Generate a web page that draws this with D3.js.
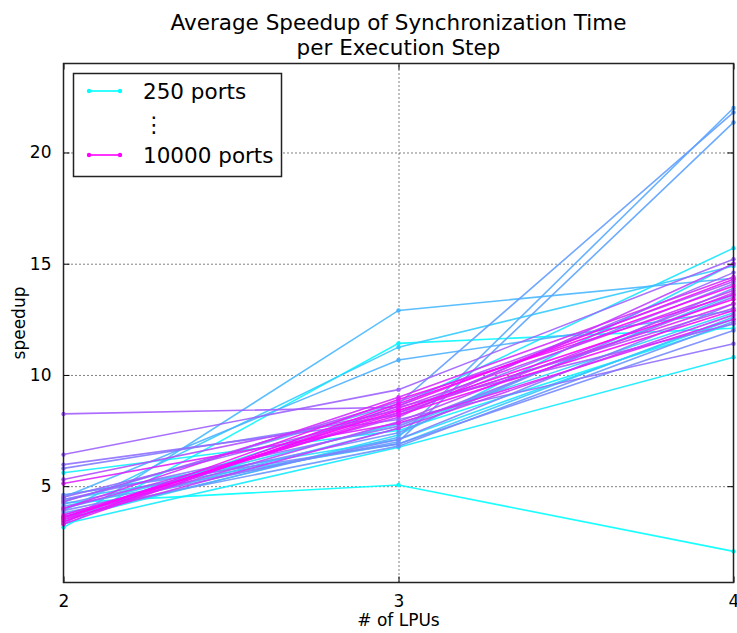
<!DOCTYPE html>
<html>
<head>
<meta charset="utf-8">
<script src="https://cdn.jsdelivr.net/npm/d3@7"></script>
<style>
  body { margin: 0; background: #fff; }
  svg { font-family: "DejaVu Sans", sans-serif; }
</style>
</head>
<body>
<div id="chart"></div>
<script>
// number of LPUs on the x axis
var lpus = [2, 3, 4];

// one series per port count, 250 .. 10000
var ports = [250, 500, 750, 1000, 1250, 1500, 1750, 2000, 2250, 2500,
             2750, 3000, 3250, 3500, 3750, 4000, 4250, 4500, 4750, 5000,
             5250, 5500, 5750, 6000, 6250, 6500, 6750, 7000, 7250, 7500,
             7750, 8000, 8250, 8500, 8750, 9000, 9250, 9500, 9750, 10000];

// speedup, one value per series
var speedup2 = [4.25, 3.15, 5.6, 3.3, 3.6, 4.6, 3.5, 4.0, 3.9, 4.4,
                3.7, 3.28, 4.5, 3.6, 4.1, 4.3, 3.8, 4.2, 4.6, 3.9,
                5.8, 4.4, 5.97, 4.5, 6.42, 8.25, 4.3, 5.3, 3.6, 4.0,
                3.5, 3.4, 4.0, 3.6, 5.12, 3.3, 3.5, 3.7, 3.4, 3.6];
var speedup3 = [5.05, 11.42, 7.5, 6.75, 8.6, 7.1, 7.3, 7.8, 11.25, 6.9,
                7.6, 12.9, 10.67, 7.2, 7.0, 8.7, 6.8, 7.4, 6.9, 7.1,
                8.2, 7.7, 8.0, 8.3, 9.34, 8.55, 8.8, 8.4, 7.9, 8.1,
                7.6, 8.5, 9.0, 8.3, 7.83, 8.6, 8.9, 8.2, 8.7, 8.4];
var speedup4 = [2.07, 12.1, 12.3, 10.8, 15.7, 12.5, 15.0, 12.8, 14.9, 12.6,
                13.6, 14.35, 12.9, 22.0, 21.35, 21.8, 12.4, 13.9, 12.0, 13.2,
                14.1, 13.5, 11.4, 14.6, 15.2, 12.3, 14.2, 13.0, 13.7, 15.0,
                12.7, 13.8, 14.4, 13.2, 12.5, 14.3, 13.6, 12.9, 14.0, 13.4];

var yTicks = [5, 10, 15, 20];

(function () {
  var W = 737, H = 633;
  var pl = 63.5, pr = 733.5, pt = 63.5, pb = 582.5;

  var svg = d3.select("#chart").append("svg")
      .attr("width", W)
      .attr("height", H);

  var x = d3.scaleLinear().domain([2, 4]).range([pl, pr]);
  var y = d3.scaleLinear().domain([0.67, 24]).range([pb, pt]);

  // cool colormap: cyan -> magenta
  function cool(i) {
    var t = i / (ports.length - 1);
    return d3.rgb(Math.round(255 * t), Math.round(255 * (1 - t)), 255).toString();
  }

  // grid
  var grid = svg.append("g");
  grid.append("g")
      .attr("transform", "translate(" + pl + ",0)")
      .call(d3.axisLeft(y).tickValues(yTicks).tickSize(-(pr - pl)).tickFormat(""))
      .call(function(g) { g.select(".domain").remove(); });
  grid.append("g")
      .attr("transform", "translate(0," + pb + ")")
      .call(d3.axisBottom(x).tickValues([3]).tickSize(-(pb - pt)).tickFormat(""))
      .call(function(g) { g.select(".domain").remove(); });
  grid.selectAll("line")
      .attr("stroke", "#000")
      .attr("stroke-width", 1)
      .attr("stroke-dasharray", "1,3");

  // series
  var rows = ports.map(function(p, i) {
    return { port: p, i: i, vals: [speedup2[i], speedup3[i], speedup4[i]] };
  });

  var line = d3.line()
      .x(function(d, j) { return x(lpus[j]); })
      .y(function(d) { return y(d); });

  var series = svg.append("g").selectAll("g")
      .data(rows)
      .enter()
      .append("g");

  series.append("path")
      .attr("d", function(d) { return line(d.vals); })
      .attr("fill", "none")
      .attr("stroke", function(d) { return cool(d.i); })
      .attr("stroke-width", 1.6)
      .attr("stroke-opacity", 0.9);

  series.selectAll("circle")
      .data(function(d) { return d.vals.map(function(v, j) { return { v: v, j: j, i: d.i }; }); })
      .enter()
      .append("circle")
      .attr("cx", function(d) { return x(lpus[d.j]); })
      .attr("cy", function(d) { return y(d.v); })
      .attr("r", 2.2)
      .attr("fill", function(d) { return cool(d.i); });

  // axes with inward ticks on all four sides
  var fontSize = "17px";
  var axL = svg.append("g")
      .attr("transform", "translate(" + pl + ",0)")
      .call(d3.axisLeft(y).tickValues(yTicks).tickSize(-6).tickPadding(12).tickFormat(d3.format("d")));
  var axR = svg.append("g")
      .attr("transform", "translate(" + pr + ",0)")
      .call(d3.axisRight(y).tickValues(yTicks).tickSize(-6).tickFormat(""));
  var axB = svg.append("g")
      .attr("transform", "translate(0," + pb + ")")
      .call(d3.axisBottom(x).tickValues(lpus).tickSize(-6).tickPadding(12).tickFormat(d3.format("d")));
  var axT = svg.append("g")
      .attr("transform", "translate(0," + pt + ")")
      .call(d3.axisTop(x).tickValues(lpus).tickSize(-6).tickFormat(""));

  [axL, axR, axB, axT].forEach(function(a) {
    a.select(".domain").remove();
    a.selectAll("line").attr("stroke", "#000").attr("stroke-width", 1);
    a.selectAll("text")
        .attr("font-size", fontSize)
        .attr("font-family", "DejaVu Sans, sans-serif")
        .attr("fill", "#000");
  });

  svg.append("rect")
      .attr("x", pl)
      .attr("y", pt)
      .attr("width", pr - pl)
      .attr("height", pb - pt)
      .attr("fill", "none")
      .attr("stroke", "#222")
      .attr("stroke-width", 1.5);

  // titles
  svg.append("text")
      .attr("x", (pl + pr) / 2)
      .attr("y", 30)
      .attr("text-anchor", "middle")
      .attr("font-size", "21.5px")
      .text("Average Speedup of Synchronization Time");
  svg.append("text")
      .attr("x", (pl + pr) / 2)
      .attr("y", 55)
      .attr("text-anchor", "middle")
      .attr("font-size", "21.5px")
      .text("per Execution Step");

  svg.append("text")
      .attr("x", (pl + pr) / 2)
      .attr("y", 626)
      .attr("text-anchor", "middle")
      .attr("font-size", fontSize)
      .text("# of LPUs");

  svg.append("text")
      .attr("transform", "translate(25," + ((pt + pb) / 2) + ") rotate(-90)")
      .attr("text-anchor", "middle")
      .attr("font-size", fontSize)
      .text("speedup");

  // legend
  var lg = svg.append("g");
  lg.append("rect")
      .attr("x", 73.5)
      .attr("y", 73.5)
      .attr("width", 208)
      .attr("height", 103)
      .attr("fill", "#fff")
      .attr("stroke", "#222")
      .attr("stroke-width", 1.5);

  var legendItems = [
    { label: ports[0] + " ports", i: 0, y: 91 },
    { label: ports[ports.length - 1] + " ports", i: ports.length - 1, y: 155 }
  ];
  legendItems.forEach(function(it) {
    lg.append("line")
        .attr("x1", 89).attr("x2", 120)
        .attr("y1", it.y).attr("y2", it.y)
        .attr("stroke", cool(it.i))
        .attr("stroke-width", 1.6);
    [89, 120].forEach(function(cx) {
      lg.append("circle")
          .attr("cx", cx).attr("cy", it.y).attr("r", 2.2)
          .attr("fill", cool(it.i));
    });
    lg.append("text")
        .attr("x", 143)
        .attr("y", it.y + 8)
        .attr("font-size", "21.5px")
        .text(it.label);
  });
  lg.append("text")
      .attr("x", 143)
      .attr("y", 132)
      .attr("font-size", "21.5px")
      .text("\u22EE");
})();
</script>
</body>
</html>
